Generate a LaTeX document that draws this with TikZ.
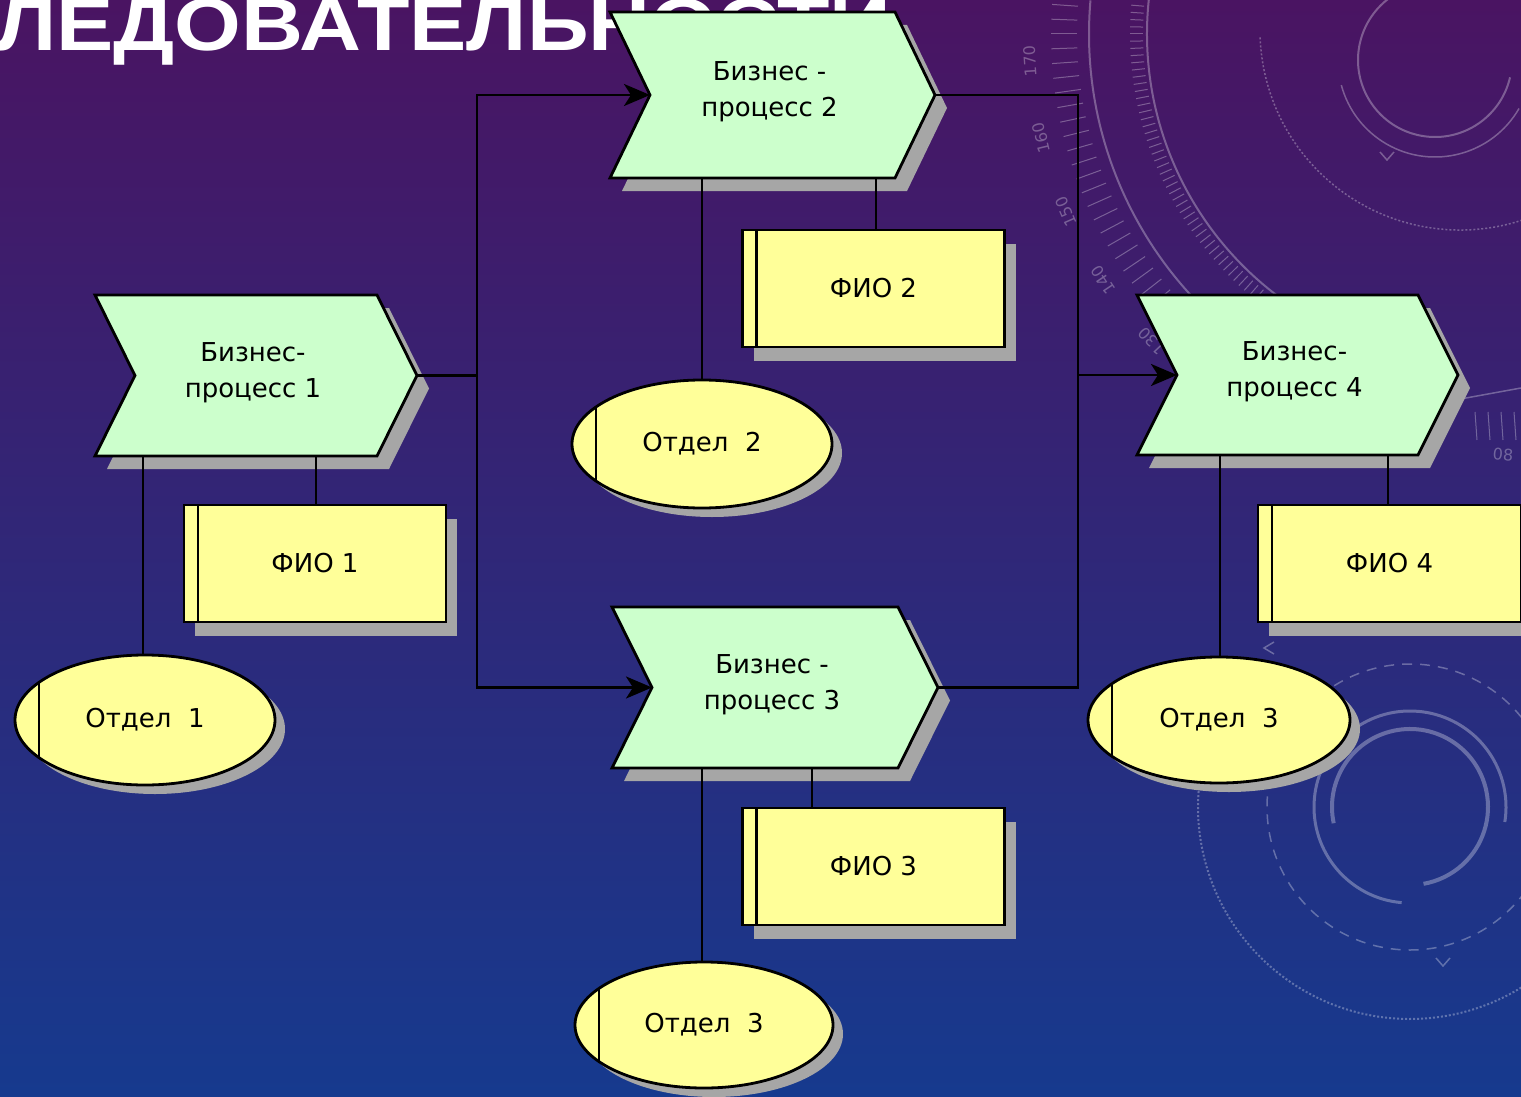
\documentclass[tikz,border=0pt]{standalone}
\usepackage{fontspec}
\setmainfont{DejaVu Sans}
\newfontfamily\titlefont{Liberation Sans}
\usetikzlibrary{arrows.meta,shadows,shapes.geometric,calc}
\definecolor{procfill}{RGB}{204,255,204}
\definecolor{yfill}{RGB}{255,255,153}
\definecolor{shadowc}{RGB}{166,166,166}
\definecolor{bgtop}{RGB}{74,20,98}
\definecolor{bgmid}{RGB}{42,32,112}
\definecolor{bgbot}{RGB}{22,58,142}
\tikzset{
  conn/.style={draw=black, line width=2.8pt},
  arr/.style={-{Stealth[length=26pt,width=22pt,inset=7pt]}},
  procshape/.style={fill=procfill, draw=black, line width=2.8pt, line join=miter},
  procshadow/.style={fill=shadowc},
  proctext/.style={font=\fontsize{26}{36}\selectfont, align=center, inner sep=0pt, text=black},
  fiobox/.style={rectangle, draw=black, line width=2.8pt, fill=yfill, minimum width=262pt, minimum height=117pt, inner sep=0pt, font=\fontsize{26}{30}\selectfont,
    drop shadow={shadow xshift=11pt, shadow yshift=-14pt, fill=shadowc, opacity=1},
    path picture={\draw[line width=2.8pt] ([xshift=14pt]path picture bounding box.north west) -- ([xshift=14pt]path picture bounding box.south west);}},
  otdel/.style={ellipse, draw=black, line width=2.8pt, fill=yfill, inner sep=0pt, font=\fontsize{26}{30}\selectfont,
    drop shadow={shadow xshift=10pt, shadow yshift=-9pt, fill=shadowc, opacity=1},
    path picture={\draw[line width=2.8pt] ([xshift=24pt]path picture bounding box.north west) -- ([xshift=24pt]path picture bounding box.south west);}},
  deco/.style={draw=white, draw opacity=0.3, line width=2pt},
  decotext/.style={text=white, text opacity=0.3, font=\fontsize{16}{16}\selectfont, inner sep=0pt},
}
\newcommand\bproc[6]{%
  \pgfmathsetmacro\procM{(#3+#5)/2}%
  \fill[procshadow,shift={(12,13)}] (#2,#3) -- (#4,#3) -- ({#4+40},\procM) -- (#4,#5) -- (#2,#5) -- ({#2+40},\procM) -- cycle;
  \filldraw[procshape] (#2,#3) -- (#4,#3) -- ({#4+40},\procM) -- (#4,#5) -- (#2,#5) -- ({#2+40},\procM) -- cycle;
  \coordinate (#1in) at ({#2+40},\procM);
  \coordinate (#1out) at ({#4+40},\procM);
  \node[proctext] (#1) at ({(#2+#4)/2+17},{\procM-3}) {#6};
}
\begin{document}
\begin{tikzpicture}[x=1pt,y=-1pt]
\useasboundingbox (0,0) rectangle (1521,1097);
\clip (0,0) rectangle (1521,1097);
\shade[top color=bgtop, middle color=bgmid, bottom color=bgbot] (0,0) rectangle (1521,1097);

% decorations top right
\coordinate (dc) at (1475,34);
\draw[deco] (dc) ++(185:386) arc[start angle=185, end angle=120, radius=386];
\draw[deco] (dc) ++(190:328) arc[start angle=190, end angle=118, radius=328];
\foreach \a in {126,127.2,...,190} \draw[deco, line width=1pt] (dc) ++(\a:332) -- ++(\a:13);
\foreach \a in {132,134,...,190} \draw[deco, line width=1pt] (dc) ++(\a:398) -- ++(\a:26);
\foreach \a/\t in {176.5/170,166.5/160,156.5/150,146.5/140,136.5/130}
  \node[decotext, rotate={-\a-90}] (n\t) at ($(dc)+(\a:446)$) {\t};
\draw[deco] (1435,60) ++(13:77) arc[start angle=13, end angle=235, radius=77];
\draw[deco, line width=1.5pt] (1435,60) ++(30:97) arc[start angle=30, end angle=165, radius=97];
\draw[deco, dotted, line width=1.5pt] (1460,30) ++(10:200) arc[start angle=10, end angle=178, radius=200];
\draw[deco, line width=1.5pt] (1380,152) -- (1387,160) -- (1394,152);
\draw[deco, line width=1.5pt] (1455,400) -- (1521,388);
\foreach \xx in {1475,1488,1501,1514} \draw[deco, line width=1pt] (\xx,412) -- (\xx+2,440);
\node[decotext, rotate=-5] (n08) at (1503,455) {08};

% decorations bottom right
\draw[deco, line width=4pt] (1410,807) ++(168:78) arc[start angle=168, end angle=440, radius=78];
\draw[deco, line width=3pt] (1410,807) ++(95:96) arc[start angle=95, end angle=369, radius=96];
\draw[deco, dashed, dash pattern=on 10pt off 8pt, line width=1.5pt] (1410,807) circle[radius=143];
\draw[deco, dotted, line width=2pt] (1410,807) ++(40:212) arc[start angle=40, end angle=200, radius=212];
\draw[deco, line width=1.5pt] (1274,642) -- (1264,648) -- (1274,654);
\draw[deco, line width=1.5pt] (1436,958) -- (1443,966) -- (1450,958);

% title
\node[anchor=base west, text=white, font=\titlefont\bfseries\fontsize{74}{80}\selectfont, xscale=1.16, inner sep=0pt] (title) at (-4,51) {ЛЕДОВАТЕЛЬНОСТИ};

% processes
\bproc{p1}{95}{295}{377}{456}{Бизнес-\\процесс 1}
\bproc{p2}{610}{12}{895}{178}{Бизнес -\\процесс 2}
\bproc{p3}{612}{607}{898}{768}{Бизнес -\\процесс 3}
\bproc{p4}{1137}{295}{1418}{455}{Бизнес-\\процесс 4}

% performers and departments
\node[fiobox] (f1) at (315,563.5) {ФИО 1};
\node[fiobox] (f2) at (873.5,288.5) {ФИО 2};
\node[fiobox] (f3) at (873.5,866.5) {ФИО 3};
\node[fiobox, minimum width=263pt] (f4) at (1389.5,563.5) {ФИО 4};
\node[otdel, minimum width=260pt, minimum height=130pt] (o1) at (145,720) {Отдел~ 1};
\node[otdel, minimum width=260pt, minimum height=128pt] (o2) at (702,444) {Отдел~ 2};
\node[otdel, minimum width=258pt, minimum height=126pt] (o3) at (704,1025) {Отдел~ 3};
\node[otdel, minimum width=262pt, minimum height=126pt] (o4) at (1219,720) {Отдел~ 3};

% attachment points
\coordinate (p1b1) at (143,456);
\coordinate (p1b2) at (316,456);
\coordinate (p2b1) at (702,178);
\coordinate (p2b2) at (876,178);
\coordinate (p3b1) at (702,768);
\coordinate (p3b2) at (812,768);
\coordinate (p4b1) at (1220,455);
\coordinate (p4b2) at (1388,455);
\coordinate (busL) at (477,0);
\coordinate (busR) at (1078,0);

\draw[conn] (p1b1) -- (p1b1 |- o1.north);
\draw[conn] (p1b2) -- (p1b2 |- f1.north);
\draw[conn] (p2b1) -- (p2b1 |- o2.north);
\draw[conn] (p2b2) -- (p2b2 |- f2.north);
\draw[conn] (p3b1) -- (p3b1 |- o3.north);
\draw[conn] (p3b2) -- (p3b2 |- f3.north);
\draw[conn] (p4b1) -- (p4b1 |- o4.north);
\draw[conn] (p4b2) -- (p4b2 |- f4.north);

\draw[conn] (p1out) -- (p1out -| busL);
\draw[conn, arr] (p1out -| busL) |- (p2in);
\draw[conn, arr] (p1out -| busL) |- (p3in);
\draw[conn] (p2out) -| (busR |- p3out) -- (p3out);
\draw[conn, arr] (busR |- p4in) -- (p4in);
\end{tikzpicture}
\end{document}
